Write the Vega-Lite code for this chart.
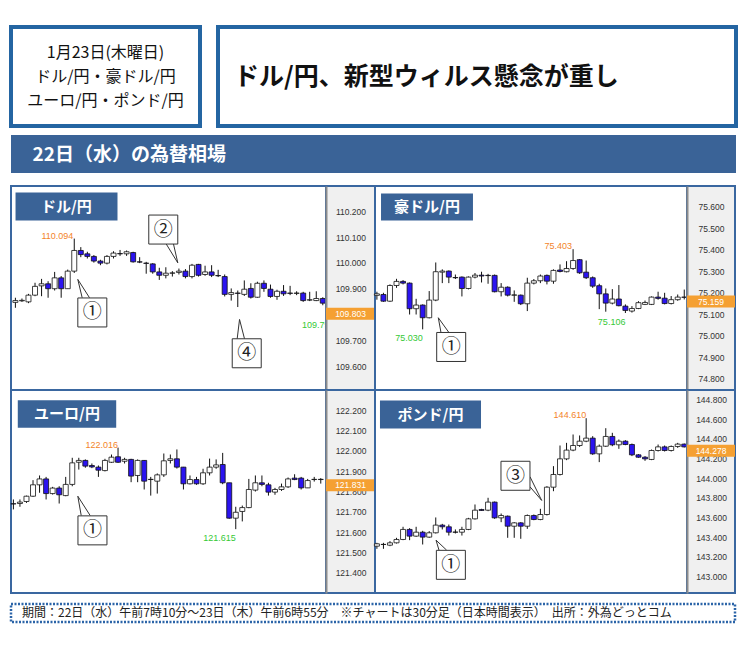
{
 "$schema": "https://vega.github.io/schema/vega-lite/v6.json",
 "background": "white",
 "padding": {"left": 9, "top": 25, "right": 0, "bottom": 0},
 "spacing": 12,
 "config": {"view": {"stroke": null}},
 "datasets": {
  "candles": [
   {"pair":"USDJPY","t":0,"open":109.847,"high":109.865,"low":109.826,"close":109.854},
   {"pair":"USDJPY","t":1,"open":109.853,"high":109.862,"low":109.849,"close":109.855},
   {"pair":"USDJPY","t":2,"open":109.849,"high":109.880,"low":109.844,"close":109.875},
   {"pair":"USDJPY","t":3,"open":109.875,"high":109.923,"low":109.871,"close":109.909},
   {"pair":"USDJPY","t":4,"open":109.911,"high":109.938,"low":109.871,"close":109.919},
   {"pair":"USDJPY","t":5,"open":109.919,"high":109.929,"low":109.865,"close":109.900},
   {"pair":"USDJPY","t":6,"open":109.900,"high":109.965,"low":109.893,"close":109.942},
   {"pair":"USDJPY","t":7,"open":109.942,"high":109.949,"low":109.865,"close":109.900},
   {"pair":"USDJPY","t":8,"open":109.900,"high":109.974,"low":109.900,"close":109.968},
   {"pair":"USDJPY","t":9,"open":109.968,"high":110.094,"low":109.961,"close":110.048},
   {"pair":"USDJPY","t":10,"open":110.048,"high":110.061,"low":110.022,"close":110.032},
   {"pair":"USDJPY","t":11,"open":110.035,"high":110.043,"low":110.017,"close":110.025},
   {"pair":"USDJPY","t":12,"open":110.025,"high":110.030,"low":110.001,"close":110.007},
   {"pair":"USDJPY","t":13,"open":110.007,"high":110.012,"low":109.991,"close":109.999},
   {"pair":"USDJPY","t":14,"open":109.999,"high":110.030,"low":109.994,"close":110.025},
   {"pair":"USDJPY","t":15,"open":110.025,"high":110.045,"low":110.017,"close":110.038},
   {"pair":"USDJPY","t":16,"open":110.036,"high":110.050,"low":110.027,"close":110.035},
   {"pair":"USDJPY","t":17,"open":110.035,"high":110.048,"low":110.027,"close":110.043},
   {"pair":"USDJPY","t":18,"open":110.040,"high":110.043,"low":110.001,"close":110.004},
   {"pair":"USDJPY","t":19,"open":110.004,"high":110.022,"low":109.999,"close":110.003},
   {"pair":"USDJPY","t":20,"open":109.999,"high":110.004,"low":109.958,"close":109.998},
   {"pair":"USDJPY","t":21,"open":109.996,"high":109.999,"low":109.958,"close":109.965},
   {"pair":"USDJPY","t":22,"open":109.965,"high":109.981,"low":109.934,"close":109.952},
   {"pair":"USDJPY","t":23,"open":109.952,"high":109.983,"low":109.940,"close":109.960},
   {"pair":"USDJPY","t":24,"open":109.960,"high":109.968,"low":109.947,"close":109.961},
   {"pair":"USDJPY","t":25,"open":109.963,"high":109.978,"low":109.955,"close":109.968},
   {"pair":"USDJPY","t":26,"open":109.968,"high":109.976,"low":109.940,"close":109.947},
   {"pair":"USDJPY","t":27,"open":109.947,"high":109.996,"low":109.940,"close":109.991},
   {"pair":"USDJPY","t":28,"open":109.994,"high":109.996,"low":109.947,"close":109.952},
   {"pair":"USDJPY","t":29,"open":109.955,"high":109.989,"low":109.950,"close":109.965},
   {"pair":"USDJPY","t":30,"open":109.965,"high":109.991,"low":109.945,"close":109.952},
   {"pair":"USDJPY","t":31,"open":109.951,"high":109.973,"low":109.945,"close":109.950},
   {"pair":"USDJPY","t":32,"open":109.947,"high":109.955,"low":109.870,"close":109.878},
   {"pair":"USDJPY","t":33,"open":109.878,"high":109.901,"low":109.854,"close":109.885},
   {"pair":"USDJPY","t":34,"open":109.883,"high":109.893,"low":109.829,"close":109.882},
   {"pair":"USDJPY","t":35,"open":109.878,"high":109.932,"low":109.872,"close":109.898},
   {"pair":"USDJPY","t":36,"open":109.901,"high":109.921,"low":109.862,"close":109.867},
   {"pair":"USDJPY","t":37,"open":109.867,"high":109.927,"low":109.865,"close":109.921},
   {"pair":"USDJPY","t":38,"open":109.921,"high":109.932,"low":109.888,"close":109.901},
   {"pair":"USDJPY","t":39,"open":109.898,"high":109.916,"low":109.865,"close":109.870},
   {"pair":"USDJPY","t":40,"open":109.870,"high":109.896,"low":109.857,"close":109.890},
   {"pair":"USDJPY","t":41,"open":109.890,"high":109.914,"low":109.872,"close":109.880},
   {"pair":"USDJPY","t":42,"open":109.883,"high":109.911,"low":109.875,"close":109.882},
   {"pair":"USDJPY","t":43,"open":109.882,"high":109.890,"low":109.875,"close":109.883},
   {"pair":"USDJPY","t":44,"open":109.883,"high":109.888,"low":109.849,"close":109.854},
   {"pair":"USDJPY","t":45,"open":109.856,"high":109.888,"low":109.852,"close":109.857},
   {"pair":"USDJPY","t":46,"open":109.854,"high":109.890,"low":109.852,"close":109.862},
   {"pair":"USDJPY","t":47,"open":109.862,"high":109.867,"low":109.836,"close":109.844},
   {"pair":"AUDJPY","t":0,"open":75.188,"high":75.205,"low":75.168,"close":75.195},
   {"pair":"AUDJPY","t":1,"open":75.192,"high":75.200,"low":75.158,"close":75.161},
   {"pair":"AUDJPY","t":2,"open":75.161,"high":75.239,"low":75.158,"close":75.234},
   {"pair":"AUDJPY","t":3,"open":75.234,"high":75.265,"low":75.223,"close":75.253},
   {"pair":"AUDJPY","t":4,"open":75.253,"high":75.259,"low":75.239,"close":75.245},
   {"pair":"AUDJPY","t":5,"open":75.245,"high":75.248,"low":75.099,"close":75.126},
   {"pair":"AUDJPY","t":6,"open":75.126,"high":75.172,"low":75.099,"close":75.143},
   {"pair":"AUDJPY","t":7,"open":75.143,"high":75.146,"low":75.030,"close":75.084},
   {"pair":"AUDJPY","t":8,"open":75.084,"high":75.208,"low":75.081,"close":75.166},
   {"pair":"AUDJPY","t":9,"open":75.166,"high":75.341,"low":75.161,"close":75.298},
   {"pair":"AUDJPY","t":10,"open":75.296,"high":75.309,"low":75.245,"close":75.301},
   {"pair":"AUDJPY","t":11,"open":75.301,"high":75.304,"low":75.245,"close":75.273},
   {"pair":"AUDJPY","t":12,"open":75.271,"high":75.285,"low":75.264,"close":75.270},
   {"pair":"AUDJPY","t":13,"open":75.273,"high":75.276,"low":75.183,"close":75.220},
   {"pair":"AUDJPY","t":14,"open":75.220,"high":75.276,"low":75.216,"close":75.273},
   {"pair":"AUDJPY","t":15,"open":75.273,"high":75.292,"low":75.267,"close":75.282},
   {"pair":"AUDJPY","t":16,"open":75.282,"high":75.298,"low":75.248,"close":75.278},
   {"pair":"AUDJPY","t":17,"open":75.281,"high":75.288,"low":75.242,"close":75.280},
   {"pair":"AUDJPY","t":18,"open":75.281,"high":75.285,"low":75.202,"close":75.205},
   {"pair":"AUDJPY","t":19,"open":75.205,"high":75.245,"low":75.183,"close":75.226},
   {"pair":"AUDJPY","t":20,"open":75.226,"high":75.230,"low":75.183,"close":75.189},
   {"pair":"AUDJPY","t":21,"open":75.189,"high":75.211,"low":75.158,"close":75.190},
   {"pair":"AUDJPY","t":22,"open":75.189,"high":75.192,"low":75.143,"close":75.149},
   {"pair":"AUDJPY","t":23,"open":75.149,"high":75.270,"low":75.115,"close":75.245},
   {"pair":"AUDJPY","t":24,"open":75.245,"high":75.264,"low":75.239,"close":75.256},
   {"pair":"AUDJPY","t":25,"open":75.256,"high":75.285,"low":75.245,"close":75.278},
   {"pair":"AUDJPY","t":26,"open":75.281,"high":75.285,"low":75.239,"close":75.254},
   {"pair":"AUDJPY","t":27,"open":75.254,"high":75.309,"low":75.242,"close":75.304},
   {"pair":"AUDJPY","t":28,"open":75.306,"high":75.332,"low":75.295,"close":75.299},
   {"pair":"AUDJPY","t":29,"open":75.298,"high":75.347,"low":75.295,"close":75.313},
   {"pair":"AUDJPY","t":30,"open":75.313,"high":75.403,"low":75.307,"close":75.350},
   {"pair":"AUDJPY","t":31,"open":75.354,"high":75.357,"low":75.288,"close":75.293},
   {"pair":"AUDJPY","t":32,"open":75.296,"high":75.350,"low":75.264,"close":75.270},
   {"pair":"AUDJPY","t":33,"open":75.270,"high":75.276,"low":75.223,"close":75.231},
   {"pair":"AUDJPY","t":34,"open":75.233,"high":75.242,"low":75.124,"close":75.195},
   {"pair":"AUDJPY","t":35,"open":75.195,"high":75.220,"low":75.112,"close":75.152},
   {"pair":"AUDJPY","t":36,"open":75.152,"high":75.217,"low":75.146,"close":75.171},
   {"pair":"AUDJPY","t":37,"open":75.171,"high":75.236,"low":75.137,"close":75.140},
   {"pair":"AUDJPY","t":38,"open":75.138,"high":75.146,"low":75.106,"close":75.118},
   {"pair":"AUDJPY","t":39,"open":75.115,"high":75.138,"low":75.108,"close":75.127},
   {"pair":"AUDJPY","t":40,"open":75.127,"high":75.161,"low":75.124,"close":75.154},
   {"pair":"AUDJPY","t":41,"open":75.146,"high":75.164,"low":75.143,"close":75.155},
   {"pair":"AUDJPY","t":42,"open":75.146,"high":75.183,"low":75.143,"close":75.180},
   {"pair":"AUDJPY","t":43,"open":75.180,"high":75.205,"low":75.168,"close":75.174},
   {"pair":"AUDJPY","t":44,"open":75.175,"high":75.200,"low":75.146,"close":75.150},
   {"pair":"AUDJPY","t":45,"open":75.150,"high":75.185,"low":75.146,"close":75.168},
   {"pair":"AUDJPY","t":46,"open":75.168,"high":75.192,"low":75.163,"close":75.180},
   {"pair":"AUDJPY","t":47,"open":75.180,"high":75.215,"low":75.169,"close":75.179},
   {"pair":"EURJPY","t":0,"open":121.740,"high":121.761,"low":121.712,"close":121.739},
   {"pair":"EURJPY","t":1,"open":121.741,"high":121.761,"low":121.725,"close":121.748},
   {"pair":"EURJPY","t":2,"open":121.751,"high":121.780,"low":121.744,"close":121.777},
   {"pair":"EURJPY","t":3,"open":121.777,"high":121.856,"low":121.774,"close":121.833},
   {"pair":"EURJPY","t":4,"open":121.833,"high":121.879,"low":121.794,"close":121.862},
   {"pair":"EURJPY","t":5,"open":121.862,"high":121.872,"low":121.761,"close":121.790},
   {"pair":"EURJPY","t":6,"open":121.790,"high":121.823,"low":121.785,"close":121.817},
   {"pair":"EURJPY","t":7,"open":121.817,"high":121.826,"low":121.741,"close":121.784},
   {"pair":"EURJPY","t":8,"open":121.780,"high":121.872,"low":121.777,"close":121.835},
   {"pair":"EURJPY","t":9,"open":121.835,"high":121.966,"low":121.826,"close":121.941},
   {"pair":"EURJPY","t":10,"open":121.944,"high":121.966,"low":121.908,"close":121.953},
   {"pair":"EURJPY","t":11,"open":121.953,"high":121.958,"low":121.917,"close":121.925},
   {"pair":"EURJPY","t":12,"open":121.928,"high":121.938,"low":121.915,"close":121.921},
   {"pair":"EURJPY","t":13,"open":121.920,"high":121.928,"low":121.872,"close":121.905},
   {"pair":"EURJPY","t":14,"open":121.903,"high":121.961,"low":121.899,"close":121.953},
   {"pair":"EURJPY","t":15,"open":121.944,"high":121.982,"low":121.941,"close":121.969},
   {"pair":"EURJPY","t":16,"open":121.971,"high":122.016,"low":121.941,"close":121.944},
   {"pair":"EURJPY","t":17,"open":121.949,"high":121.966,"low":121.938,"close":121.958},
   {"pair":"EURJPY","t":18,"open":121.958,"high":121.961,"low":121.846,"close":121.876},
   {"pair":"EURJPY","t":19,"open":121.879,"high":121.958,"low":121.846,"close":121.953},
   {"pair":"EURJPY","t":20,"open":121.953,"high":121.954,"low":121.810,"close":121.851},
   {"pair":"EURJPY","t":21,"open":121.859,"high":121.872,"low":121.780,"close":121.860},
   {"pair":"EURJPY","t":22,"open":121.851,"high":121.889,"low":121.790,"close":121.882},
   {"pair":"EURJPY","t":23,"open":121.882,"high":121.987,"low":121.872,"close":121.951},
   {"pair":"EURJPY","t":24,"open":121.953,"high":121.982,"low":121.938,"close":121.961},
   {"pair":"EURJPY","t":25,"open":121.961,"high":122.007,"low":121.913,"close":121.920},
   {"pair":"EURJPY","t":26,"open":121.920,"high":121.921,"low":121.810,"close":121.838},
   {"pair":"EURJPY","t":27,"open":121.838,"high":121.879,"low":121.835,"close":121.859},
   {"pair":"EURJPY","t":28,"open":121.859,"high":121.872,"low":121.833,"close":121.838},
   {"pair":"EURJPY","t":29,"open":121.838,"high":121.912,"low":121.833,"close":121.892},
   {"pair":"EURJPY","t":30,"open":121.892,"high":121.962,"low":121.879,"close":121.920},
   {"pair":"EURJPY","t":31,"open":121.920,"high":121.958,"low":121.912,"close":121.931},
   {"pair":"EURJPY","t":32,"open":121.933,"high":121.990,"low":121.836,"close":121.843},
   {"pair":"EURJPY","t":33,"open":121.843,"high":121.843,"low":121.666,"close":121.669},
   {"pair":"EURJPY","t":34,"open":121.669,"high":121.725,"low":121.615,"close":121.698},
   {"pair":"EURJPY","t":35,"open":121.702,"high":121.731,"low":121.653,"close":121.721},
   {"pair":"EURJPY","t":36,"open":121.721,"high":121.862,"low":121.718,"close":121.810},
   {"pair":"EURJPY","t":37,"open":121.807,"high":121.879,"low":121.800,"close":121.843},
   {"pair":"EURJPY","t":38,"open":121.843,"high":121.879,"low":121.826,"close":121.835},
   {"pair":"EURJPY","t":39,"open":121.833,"high":121.843,"low":121.780,"close":121.797},
   {"pair":"EURJPY","t":40,"open":121.797,"high":121.818,"low":121.784,"close":121.810},
   {"pair":"EURJPY","t":41,"open":121.810,"high":121.839,"low":121.803,"close":121.823},
   {"pair":"EURJPY","t":42,"open":121.823,"high":121.869,"low":121.818,"close":121.862},
   {"pair":"EURJPY","t":43,"open":121.866,"high":121.885,"low":121.856,"close":121.859},
   {"pair":"EURJPY","t":44,"open":121.866,"high":121.872,"low":121.810,"close":121.818},
   {"pair":"EURJPY","t":45,"open":121.818,"high":121.862,"low":121.817,"close":121.854},
   {"pair":"EURJPY","t":46,"open":121.859,"high":121.872,"low":121.849,"close":121.860},
   {"pair":"EURJPY","t":47,"open":121.860,"high":121.866,"low":121.839,"close":121.859},
   {"pair":"GBPJPY","t":0,"open":143.308,"high":143.342,"low":143.281,"close":143.332},
   {"pair":"GBPJPY","t":1,"open":143.325,"high":143.342,"low":143.281,"close":143.326},
   {"pair":"GBPJPY","t":2,"open":143.318,"high":143.359,"low":143.308,"close":143.342},
   {"pair":"GBPJPY","t":3,"open":143.342,"high":143.393,"low":143.335,"close":143.376},
   {"pair":"GBPJPY","t":4,"open":143.376,"high":143.505,"low":143.369,"close":143.478},
   {"pair":"GBPJPY","t":5,"open":143.478,"high":143.491,"low":143.369,"close":143.410},
   {"pair":"GBPJPY","t":6,"open":143.410,"high":143.505,"low":143.403,"close":143.450},
   {"pair":"GBPJPY","t":7,"open":143.450,"high":143.464,"low":143.325,"close":143.400},
   {"pair":"GBPJPY","t":8,"open":143.400,"high":143.461,"low":143.393,"close":143.444},
   {"pair":"GBPJPY","t":9,"open":143.444,"high":143.600,"low":143.437,"close":143.522},
   {"pair":"GBPJPY","t":10,"open":143.522,"high":143.535,"low":143.478,"close":143.505},
   {"pair":"GBPJPY","t":11,"open":143.505,"high":143.528,"low":143.416,"close":143.450},
   {"pair":"GBPJPY","t":12,"open":143.451,"high":143.478,"low":143.437,"close":143.450},
   {"pair":"GBPJPY","t":13,"open":143.450,"high":143.505,"low":143.416,"close":143.478},
   {"pair":"GBPJPY","t":14,"open":143.478,"high":143.596,"low":143.471,"close":143.586},
   {"pair":"GBPJPY","t":15,"open":143.586,"high":143.732,"low":143.579,"close":143.674},
   {"pair":"GBPJPY","t":16,"open":143.681,"high":143.688,"low":143.667,"close":143.671},
   {"pair":"GBPJPY","t":17,"open":143.674,"high":143.800,"low":143.664,"close":143.756},
   {"pair":"GBPJPY","t":18,"open":143.756,"high":143.762,"low":143.586,"close":143.596},
   {"pair":"GBPJPY","t":19,"open":143.596,"high":143.640,"low":143.552,"close":143.620},
   {"pair":"GBPJPY","t":20,"open":143.613,"high":143.620,"low":143.393,"close":143.511},
   {"pair":"GBPJPY","t":21,"open":143.511,"high":143.552,"low":143.393,"close":143.545},
   {"pair":"GBPJPY","t":22,"open":143.545,"high":143.552,"low":143.383,"close":143.511},
   {"pair":"GBPJPY","t":23,"open":143.511,"high":143.630,"low":143.484,"close":143.620},
   {"pair":"GBPJPY","t":24,"open":143.620,"high":143.630,"low":143.572,"close":143.579},
   {"pair":"GBPJPY","t":25,"open":143.579,"high":143.688,"low":143.572,"close":143.630},
   {"pair":"GBPJPY","t":26,"open":143.630,"high":143.918,"low":143.620,"close":143.908},
   {"pair":"GBPJPY","t":27,"open":143.908,"high":144.122,"low":143.867,"close":144.037},
   {"pair":"GBPJPY","t":28,"open":144.037,"high":144.332,"low":144.027,"close":144.196},
   {"pair":"GBPJPY","t":29,"open":144.196,"high":144.359,"low":144.183,"close":144.285},
   {"pair":"GBPJPY","t":30,"open":144.285,"high":144.444,"low":144.274,"close":144.332},
   {"pair":"GBPJPY","t":31,"open":144.332,"high":144.434,"low":144.318,"close":144.376},
   {"pair":"GBPJPY","t":32,"open":144.376,"high":144.610,"low":144.366,"close":144.407},
   {"pair":"GBPJPY","t":33,"open":144.407,"high":144.427,"low":144.237,"close":144.247},
   {"pair":"GBPJPY","t":34,"open":144.247,"high":144.342,"low":144.163,"close":144.325},
   {"pair":"GBPJPY","t":35,"open":144.325,"high":144.508,"low":144.318,"close":144.424},
   {"pair":"GBPJPY","t":36,"open":144.424,"high":144.461,"low":144.325,"close":144.339},
   {"pair":"GBPJPY","t":37,"open":144.339,"high":144.393,"low":144.298,"close":144.376},
   {"pair":"GBPJPY","t":38,"open":144.376,"high":144.386,"low":144.335,"close":144.342},
   {"pair":"GBPJPY","t":39,"open":144.342,"high":144.352,"low":144.224,"close":144.237},
   {"pair":"GBPJPY","t":40,"open":144.237,"high":144.244,"low":144.207,"close":144.213},
   {"pair":"GBPJPY","t":41,"open":144.213,"high":144.224,"low":144.176,"close":144.196},
   {"pair":"GBPJPY","t":42,"open":144.190,"high":144.291,"low":144.183,"close":144.281},
   {"pair":"GBPJPY","t":43,"open":144.281,"high":144.342,"low":144.271,"close":144.318},
   {"pair":"GBPJPY","t":44,"open":144.318,"high":144.332,"low":144.271,"close":144.281},
   {"pair":"GBPJPY","t":45,"open":144.281,"high":144.332,"low":144.271,"close":144.322},
   {"pair":"GBPJPY","t":46,"open":144.322,"high":144.359,"low":144.308,"close":144.346},
   {"pair":"GBPJPY","t":47,"open":144.346,"high":144.352,"low":144.312,"close":144.318}
  ],
  "labels": [
   {"pair":"USDJPY","kind":"high","t":9,"value":110.094,"text":"110.094"},
   {"pair":"USDJPY","kind":"low","t":48.8,"value":109.795,"text":"109.795"},
   {"pair":"USDJPY","kind":"now","value":109.803,"text":"109.803"},
   {"pair":"AUDJPY","kind":"high","t":30,"value":75.403,"text":"75.403"},
   {"pair":"AUDJPY","kind":"low","t":7,"value":75.030,"text":"75.030"},
   {"pair":"AUDJPY","kind":"low","t":38,"value":75.106,"text":"75.106"},
   {"pair":"AUDJPY","kind":"now","value":75.159,"text":"75.159"},
   {"pair":"EURJPY","kind":"high","t":16,"value":122.016,"text":"122.016"},
   {"pair":"EURJPY","kind":"low","t":34,"value":121.615,"text":"121.615"},
   {"pair":"EURJPY","kind":"now","value":121.831,"text":"121.831"},
   {"pair":"GBPJPY","kind":"high","t":32,"value":144.610,"text":"144.610"},
   {"pair":"GBPJPY","kind":"now","value":144.278,"text":"144.278"}
  ],
  "boxes": [
   {"pair":"USDJPY","id":"1","t":11.76,"value":109.808,"label":"①"},
   {"pair":"USDJPY","id":"2","t":22.61,"value":110.129,"label":"②"},
   {"pair":"USDJPY","id":"4","t":35.37,"value":109.650,"label":"④"},
   {"pair":"AUDJPY","id":"1","t":11.36,"value":74.948,"label":"①"},
   {"pair":"EURJPY","id":"1","t":12.09,"value":121.609,"label":"①"},
   {"pair":"GBPJPY","id":"3","t":21.19,"value":144.024,"label":"③"},
   {"pair":"GBPJPY","id":"1","t":11.31,"value":143.118,"label":"①"}
  ],
  "tails": [
   {"pair":"USDJPY","id":"1","seq":0,"t":10.21,"value":109.865},
   {"pair":"USDJPY","id":"1","seq":1,"t":9.54,"value":109.936},
   {"pair":"USDJPY","id":"1","seq":2,"t":11.33,"value":109.865},
   {"pair":"USDJPY","id":"2","seq":0,"t":23.06,"value":110.073},
   {"pair":"USDJPY","id":"2","seq":1,"t":24.83,"value":110.000},
   {"pair":"USDJPY","id":"2","seq":2,"t":24.17,"value":110.073},
   {"pair":"USDJPY","id":"4","seq":0,"t":33.91,"value":109.706},
   {"pair":"USDJPY","id":"4","seq":1,"t":34.27,"value":109.781},
   {"pair":"USDJPY","id":"4","seq":2,"t":35.03,"value":109.706},
   {"pair":"AUDJPY","id":"1","seq":0,"t":9.80,"value":75.015},
   {"pair":"AUDJPY","id":"1","seq":1,"t":9.39,"value":75.084},
   {"pair":"AUDJPY","id":"1","seq":2,"t":11.02,"value":75.015},
   {"pair":"EURJPY","id":"1","seq":0,"t":10.37,"value":121.682},
   {"pair":"EURJPY","id":"1","seq":1,"t":9.85,"value":121.777},
   {"pair":"EURJPY","id":"1","seq":2,"t":11.74,"value":121.682},
   {"pair":"GBPJPY","id":"3","seq":0,"t":23.41,"value":144.014},
   {"pair":"GBPJPY","id":"3","seq":1,"t":25.2,"value":143.773},
   {"pair":"GBPJPY","id":"3","seq":2,"t":23.41,"value":143.912},
   {"pair":"GBPJPY","id":"1","seq":0,"t":9.5,"value":143.267},
   {"pair":"GBPJPY","id":"1","seq":1,"t":9.04,"value":143.369},
   {"pair":"GBPJPY","id":"1","seq":2,"t":10.67,"value":143.267}
  ]
 },
 "vconcat": [
  {
   "vconcat": [
    {
     "hconcat": [
      {
       "width": 189, "height": 99,
       "view": {"stroke": "#2465A2", "strokeWidth": 4},
       "data": {"values": [{"label": "1月23日(木曜日)\nドル/円・豪ドル/円\nユーロ/円・ポンド/円"}]},
       "mark": {"type": "text", "lineBreak": "\n", "font": "Noto Sans CJK JP", "fontSize": 16, "lineHeight": 24, "color": "#111111", "align": "center", "baseline": "middle", "dy": -24},
       "encoding": {"text": {"field": "label"}}
      },
      {
       "width": 518, "height": 99,
       "view": {"stroke": "#2465A2", "strokeWidth": 4},
       "data": {"values": [{"label": "ドル/円、新型ウィルス懸念が重し"}]},
       "mark": {"type": "text", "font": "Noto Sans CJK JP", "fontSize": 25, "fontWeight": "bold", "color": "#111111", "align": "left", "baseline": "middle", "dx": -243},
       "encoding": {"text": {"field": "label"}}
      }
     ],
     "spacing": 18,
     "bounds": "flush"
    },
    {
     "width": 725, "height": 38,
     "view": {"fill": "#3A6397", "stroke": null},
     "data": {"values": [{"label": "22日（水）の為替相場"}]},
     "mark": {"type": "text", "font": "Noto Sans CJK JP", "fontSize": 19, "fontWeight": "bold", "color": "#FFFFFF", "align": "left", "baseline": "middle", "dx": -341, "dy": 1},
     "encoding": {"text": {"field": "label"}}
    }
   ],
   "spacing": 7
  },
  {
   "vconcat": [
    {
     "concat": [
      {
       "width": 315, "height": 204,
       "view": {"stroke": "#3A67A0", "strokeWidth": 2},
       "layer": [
        {"data": {"name": "candles"}, "transform": [{"filter": {"field": "pair", "equal": "USDJPY"}}],
         "mark": {"type": "rule", "color": "#111111", "strokeWidth": 1},
         "encoding": {
          "x": {"field": "t", "type": "quantitative", "scale": {"domain": [-0.673, 47.49], "nice": false, "zero": false, "padding": 0}, "axis": {"values": [9.5, 33.5], "grid": true, "gridColor": "#D0D0D0", "labels": false, "ticks": false, "domain": false, "title": null}},
          "y": {"field": "low", "type": "quantitative", "scale": {"domain": [109.5078, 110.2976], "nice": false, "zero": false, "padding": 0}, "axis": {"values": [109.6, 109.7, 109.8, 109.9, 110.0, 110.1, 110.2], "grid": true, "gridColor": "#DEDEDE", "labels": false, "ticks": false, "domain": false, "title": null}},
          "y2": {"field": "high"}}},
        {"data": {"name": "candles"}, "transform": [{"filter": {"field": "pair", "equal": "USDJPY"}}],
         "mark": {"type": "bar", "size": 5, "stroke": "#111111", "strokeWidth": 0.8},
         "encoding": {
          "x": {"field": "t", "type": "quantitative", "scale": {"domain": [-0.673, 47.49], "nice": false, "zero": false, "padding": 0}, "axis": null},
          "y": {"field": "open", "type": "quantitative", "scale": {"domain": [109.5078, 110.2976], "nice": false, "zero": false, "padding": 0}, "axis": null},
          "y2": {"field": "close"},
          "fill": {"condition": {"test": "datum.close >= datum.open", "value": "#FFFFFF"}, "value": "#2B14F0"}}},
        {"data": {"name": "labels"}, "transform": [{"filter": "datum.pair == 'USDJPY' && datum.kind == 'high'"}],
         "mark": {"type": "text", "align": "right", "baseline": "middle", "dx": -1, "dy": -3, "font": "Liberation Sans, Arial, sans-serif", "fontSize": 9, "color": "#F3842A", "clip": true},
         "encoding": {
          "x": {"field": "t", "type": "quantitative", "scale": {"domain": [-0.673, 47.49], "nice": false, "zero": false, "padding": 0}, "axis": null},
          "y": {"field": "value", "type": "quantitative", "scale": {"domain": [109.5078, 110.2976], "nice": false, "zero": false, "padding": 0}, "axis": null},
          "text": {"field": "text"}}},
        {"data": {"name": "labels"}, "transform": [{"filter": "datum.pair == 'USDJPY' && datum.kind == 'low'"}],
         "mark": {"type": "text", "align": "right", "baseline": "middle", "dx": 0, "dy": 9, "font": "Liberation Sans, Arial, sans-serif", "fontSize": 9, "color": "#35C935", "clip": true},
         "encoding": {
          "x": {"field": "t", "type": "quantitative", "scale": {"domain": [-0.673, 47.49], "nice": false, "zero": false, "padding": 0}, "axis": null},
          "y": {"field": "value", "type": "quantitative", "scale": {"domain": [109.5078, 110.2976], "nice": false, "zero": false, "padding": 0}, "axis": null},
          "text": {"field": "text"}}},
        {"data": {"values": [{}]},
         "mark": {"type": "rect", "fill": "#3A6397"},
         "encoding": {
          "x": {"datum": 0.02, "type": "quantitative", "scale": {"domain": [-0.673, 47.49], "nice": false, "zero": false, "padding": 0}, "axis": null},
          "x2": {"datum": 15.61},
          "y": {"datum": 110.2724, "type": "quantitative", "scale": {"domain": [109.5078, 110.2976], "nice": false, "zero": false, "padding": 0}, "axis": null},
          "y2": {"datum": 110.164}}},
        {"data": {"values": [{}]},
         "mark": {"type": "text", "text": "ドル/円", "font": "Noto Sans CJK JP", "fontSize": 15, "fontWeight": "bold", "color": "#FFFFFF"},
         "encoding": {
          "x": {"datum": 7.8, "type": "quantitative", "scale": {"domain": [-0.673, 47.49], "nice": false, "zero": false, "padding": 0}, "axis": null},
          "y": {"datum": 110.218, "type": "quantitative", "scale": {"domain": [109.5078, 110.2976], "nice": false, "zero": false, "padding": 0}, "axis": null}}},
        {"data": {"name": "tails"}, "transform": [{"filter": {"field": "pair", "equal": "USDJPY"}}],
         "mark": {"type": "line", "stroke": "#333333", "strokeWidth": 1},
         "encoding": {
          "x": {"field": "t", "type": "quantitative", "scale": {"domain": [-0.673, 47.49], "nice": false, "zero": false, "padding": 0}, "axis": null},
          "y": {"field": "value", "type": "quantitative", "scale": {"domain": [109.5078, 110.2976], "nice": false, "zero": false, "padding": 0}, "axis": null},
          "detail": {"field": "id"},
          "order": {"field": "seq"}}},
        {"data": {"name": "boxes"}, "transform": [{"filter": {"field": "pair", "equal": "USDJPY"}}],
         "mark": {"type": "point", "shape": "square", "size": 841, "filled": true, "fill": "#FFFFFF", "stroke": "#333333", "strokeWidth": 1, "opacity": 1},
         "encoding": {
          "x": {"field": "t", "type": "quantitative", "scale": {"domain": [-0.673, 47.49], "nice": false, "zero": false, "padding": 0}, "axis": null},
          "y": {"field": "value", "type": "quantitative", "scale": {"domain": [109.5078, 110.2976], "nice": false, "zero": false, "padding": 0}, "axis": null}}},
        {"data": {"name": "boxes"}, "transform": [{"filter": {"field": "pair", "equal": "USDJPY"}}],
         "mark": {"type": "text", "font": "Noto Sans CJK JP", "fontSize": 19, "color": "#222222"},
         "encoding": {
          "x": {"field": "t", "type": "quantitative", "scale": {"domain": [-0.673, 47.49], "nice": false, "zero": false, "padding": 0}, "axis": null},
          "y": {"field": "value", "type": "quantitative", "scale": {"domain": [109.5078, 110.2976], "nice": false, "zero": false, "padding": 0}, "axis": null},
          "text": {"field": "label"}}}
       ]
      },
      {
       "width": 49, "height": 204,
       "view": {"fill": "#F0F0F0", "stroke": "#3A67A0", "strokeWidth": 2},
       "data": {"name": "labels"},
       "transform": [{"filter": "datum.pair == 'USDJPY' && datum.kind == 'now'"}],
       "encoding": {"y": {"field": "value", "type": "quantitative", "scale": {"domain": [109.5078, 110.2976], "nice": false, "zero": false, "padding": 0},
           "axis": {"orient": "left", "values": [109.6, 109.7, 109.8, 109.9, 110.0, 110.1, 110.2], "format": ".3f", "grid": false, "ticks": false, "domain": true, "domainColor": "#8C8C8C", "domainWidth": 2, "labelAlign": "center", "labelPadding": -24.5, "labelFont": "Liberation Sans, Arial, sans-serif", "labelFontSize": 8.5, "labelColor": "#333333", "title": null}}},
       "layer": [
        {"mark": {"type": "tick", "orient": "horizontal", "size": 49, "thickness": 12, "color": "#F5A032", "opacity": 1}},
        {"mark": {"type": "text", "color": "#FFFFFF", "font": "Liberation Sans, Arial, sans-serif", "fontSize": 8.5},
         "encoding": {"text": {"field": "text"}}}
       ]
      },
      {
       "width": 312, "height": 204,
       "view": {"stroke": "#3A67A0", "strokeWidth": 2},
       "layer": [
        {"data": {"name": "candles"}, "transform": [{"filter": {"field": "pair", "equal": "AUDJPY"}}],
         "mark": {"type": "rule", "color": "#111111", "strokeWidth": 1},
         "encoding": {
          "x": {"field": "t", "type": "quantitative", "scale": {"domain": [-0.291, 47.42], "nice": false, "zero": false, "padding": 0}, "axis": {"values": [9.5, 33.5], "grid": true, "gridColor": "#D0D0D0", "labels": false, "ticks": false, "domain": false, "title": null}},
          "y": {"field": "low", "type": "quantitative", "scale": {"domain": [74.7479, 75.6967], "nice": false, "zero": false, "padding": 0}, "axis": {"values": [74.8, 74.9, 75.0, 75.1, 75.2, 75.3, 75.4, 75.5, 75.6], "grid": true, "gridColor": "#DEDEDE", "labels": false, "ticks": false, "domain": false, "title": null}},
          "y2": {"field": "high"}}},
        {"data": {"name": "candles"}, "transform": [{"filter": {"field": "pair", "equal": "AUDJPY"}}],
         "mark": {"type": "bar", "size": 5, "stroke": "#111111", "strokeWidth": 0.8},
         "encoding": {
          "x": {"field": "t", "type": "quantitative", "scale": {"domain": [-0.291, 47.42], "nice": false, "zero": false, "padding": 0}, "axis": null},
          "y": {"field": "open", "type": "quantitative", "scale": {"domain": [74.7479, 75.6967], "nice": false, "zero": false, "padding": 0}, "axis": null},
          "y2": {"field": "close"},
          "fill": {"condition": {"test": "datum.close >= datum.open", "value": "#FFFFFF"}, "value": "#2B14F0"}}},
        {"data": {"name": "labels"}, "transform": [{"filter": "datum.pair == 'AUDJPY' && datum.kind == 'high'"}],
         "mark": {"type": "text", "align": "right", "baseline": "middle", "dx": -1, "dy": -3, "font": "Liberation Sans, Arial, sans-serif", "fontSize": 9, "color": "#F3842A", "clip": true},
         "encoding": {
          "x": {"field": "t", "type": "quantitative", "scale": {"domain": [-0.291, 47.42], "nice": false, "zero": false, "padding": 0}, "axis": null},
          "y": {"field": "value", "type": "quantitative", "scale": {"domain": [74.7479, 75.6967], "nice": false, "zero": false, "padding": 0}, "axis": null},
          "text": {"field": "text"}}},
        {"data": {"name": "labels"}, "transform": [{"filter": "datum.pair == 'AUDJPY' && datum.kind == 'low'"}],
         "mark": {"type": "text", "align": "right", "baseline": "middle", "dx": 0, "dy": 9, "font": "Liberation Sans, Arial, sans-serif", "fontSize": 9, "color": "#35C935", "clip": true},
         "encoding": {
          "x": {"field": "t", "type": "quantitative", "scale": {"domain": [-0.291, 47.42], "nice": false, "zero": false, "padding": 0}, "axis": null},
          "y": {"field": "value", "type": "quantitative", "scale": {"domain": [74.7479, 75.6967], "nice": false, "zero": false, "padding": 0}, "axis": null},
          "text": {"field": "text"}}},
        {"data": {"values": [{}]},
         "mark": {"type": "rect", "fill": "#3A6397"},
         "encoding": {
          "x": {"datum": 0.63, "type": "quantitative", "scale": {"domain": [-0.291, 47.42], "nice": false, "zero": false, "padding": 0}, "axis": null},
          "x2": {"datum": 14.69},
          "y": {"datum": 75.6618, "type": "quantitative", "scale": {"domain": [74.7479, 75.6967], "nice": false, "zero": false, "padding": 0}, "axis": null},
          "y2": {"datum": 75.5362}}},
        {"data": {"values": [{}]},
         "mark": {"type": "text", "text": "豪ドル/円", "font": "Noto Sans CJK JP", "fontSize": 15, "fontWeight": "bold", "color": "#FFFFFF"},
         "encoding": {
          "x": {"datum": 7.66, "type": "quantitative", "scale": {"domain": [-0.291, 47.42], "nice": false, "zero": false, "padding": 0}, "axis": null},
          "y": {"datum": 75.599, "type": "quantitative", "scale": {"domain": [74.7479, 75.6967], "nice": false, "zero": false, "padding": 0}, "axis": null}}},
        {"data": {"name": "tails"}, "transform": [{"filter": {"field": "pair", "equal": "AUDJPY"}}],
         "mark": {"type": "line", "stroke": "#333333", "strokeWidth": 1},
         "encoding": {
          "x": {"field": "t", "type": "quantitative", "scale": {"domain": [-0.291, 47.42], "nice": false, "zero": false, "padding": 0}, "axis": null},
          "y": {"field": "value", "type": "quantitative", "scale": {"domain": [74.7479, 75.6967], "nice": false, "zero": false, "padding": 0}, "axis": null},
          "detail": {"field": "id"},
          "order": {"field": "seq"}}},
        {"data": {"name": "boxes"}, "transform": [{"filter": {"field": "pair", "equal": "AUDJPY"}}],
         "mark": {"type": "point", "shape": "square", "size": 841, "filled": true, "fill": "#FFFFFF", "stroke": "#333333", "strokeWidth": 1, "opacity": 1},
         "encoding": {
          "x": {"field": "t", "type": "quantitative", "scale": {"domain": [-0.291, 47.42], "nice": false, "zero": false, "padding": 0}, "axis": null},
          "y": {"field": "value", "type": "quantitative", "scale": {"domain": [74.7479, 75.6967], "nice": false, "zero": false, "padding": 0}, "axis": null}}},
        {"data": {"name": "boxes"}, "transform": [{"filter": {"field": "pair", "equal": "AUDJPY"}}],
         "mark": {"type": "text", "font": "Noto Sans CJK JP", "fontSize": 19, "color": "#222222"},
         "encoding": {
          "x": {"field": "t", "type": "quantitative", "scale": {"domain": [-0.291, 47.42], "nice": false, "zero": false, "padding": 0}, "axis": null},
          "y": {"field": "value", "type": "quantitative", "scale": {"domain": [74.7479, 75.6967], "nice": false, "zero": false, "padding": 0}, "axis": null},
          "text": {"field": "label"}}}
       ]
      },
      {
       "width": 48, "height": 204,
       "view": {"fill": "#F0F0F0", "stroke": "#3A67A0", "strokeWidth": 2},
       "data": {"name": "labels"},
       "transform": [{"filter": "datum.pair == 'AUDJPY' && datum.kind == 'now'"}],
       "encoding": {"y": {"field": "value", "type": "quantitative", "scale": {"domain": [74.7479, 75.6967], "nice": false, "zero": false, "padding": 0},
           "axis": {"orient": "left", "values": [74.8, 74.9, 75.0, 75.1, 75.2, 75.3, 75.4, 75.5, 75.6], "format": ".3f", "grid": false, "ticks": false, "domain": true, "domainColor": "#8C8C8C", "domainWidth": 2, "labelAlign": "center", "labelPadding": -24, "labelFont": "Liberation Sans, Arial, sans-serif", "labelFontSize": 8.5, "labelColor": "#333333", "title": null}}},
       "layer": [
        {"mark": {"type": "tick", "orient": "horizontal", "size": 48, "thickness": 12, "color": "#F5A032", "opacity": 1}},
        {"mark": {"type": "text", "color": "#FFFFFF", "font": "Liberation Sans, Arial, sans-serif", "fontSize": 8.5},
         "encoding": {"text": {"field": "text"}}}
       ]
      },
      {
       "width": 315, "height": 203,
       "view": {"stroke": "#3A67A0", "strokeWidth": 2},
       "layer": [
        {"data": {"name": "candles"}, "transform": [{"filter": {"field": "pair", "equal": "EURJPY"}}],
         "mark": {"type": "rule", "color": "#111111", "strokeWidth": 1},
         "encoding": {
          "x": {"field": "t", "type": "quantitative", "scale": {"domain": [-0.367, 47.80], "nice": false, "zero": false, "padding": 0}, "axis": {"values": [9.5, 33.5], "grid": true, "gridColor": "#D0D0D0", "labels": false, "ticks": false, "domain": false, "title": null}},
          "y": {"field": "low", "type": "quantitative", "scale": {"domain": [121.3009, 122.2994], "nice": false, "zero": false, "padding": 0}, "axis": {"values": [121.4, 121.5, 121.6, 121.7, 121.8, 121.9, 122.0, 122.1, 122.2], "grid": true, "gridColor": "#DEDEDE", "labels": false, "ticks": false, "domain": false, "title": null}},
          "y2": {"field": "high"}}},
        {"data": {"name": "candles"}, "transform": [{"filter": {"field": "pair", "equal": "EURJPY"}}],
         "mark": {"type": "bar", "size": 5, "stroke": "#111111", "strokeWidth": 0.8},
         "encoding": {
          "x": {"field": "t", "type": "quantitative", "scale": {"domain": [-0.367, 47.80], "nice": false, "zero": false, "padding": 0}, "axis": null},
          "y": {"field": "open", "type": "quantitative", "scale": {"domain": [121.3009, 122.2994], "nice": false, "zero": false, "padding": 0}, "axis": null},
          "y2": {"field": "close"},
          "fill": {"condition": {"test": "datum.close >= datum.open", "value": "#FFFFFF"}, "value": "#2B14F0"}}},
        {"data": {"name": "labels"}, "transform": [{"filter": "datum.pair == 'EURJPY' && datum.kind == 'high'"}],
         "mark": {"type": "text", "align": "right", "baseline": "middle", "dx": 0, "dy": -3, "font": "Liberation Sans, Arial, sans-serif", "fontSize": 9, "color": "#F3842A", "clip": true},
         "encoding": {
          "x": {"field": "t", "type": "quantitative", "scale": {"domain": [-0.367, 47.80], "nice": false, "zero": false, "padding": 0}, "axis": null},
          "y": {"field": "value", "type": "quantitative", "scale": {"domain": [121.3009, 122.2994], "nice": false, "zero": false, "padding": 0}, "axis": null},
          "text": {"field": "text"}}},
        {"data": {"name": "labels"}, "transform": [{"filter": "datum.pair == 'EURJPY' && datum.kind == 'low'"}],
         "mark": {"type": "text", "align": "right", "baseline": "middle", "dx": 0, "dy": 9, "font": "Liberation Sans, Arial, sans-serif", "fontSize": 9, "color": "#35C935", "clip": true},
         "encoding": {
          "x": {"field": "t", "type": "quantitative", "scale": {"domain": [-0.367, 47.80], "nice": false, "zero": false, "padding": 0}, "axis": null},
          "y": {"field": "value", "type": "quantitative", "scale": {"domain": [121.3009, 122.2994], "nice": false, "zero": false, "padding": 0}, "axis": null},
          "text": {"field": "text"}}},
        {"data": {"values": [{}]},
         "mark": {"type": "rect", "fill": "#3A6397"},
         "encoding": {
          "x": {"datum": 0.67, "type": "quantitative", "scale": {"domain": [-0.367, 47.80], "nice": false, "zero": false, "padding": 0}, "axis": null},
          "x2": {"datum": 15.72},
          "y": {"datum": 122.2492, "type": "quantitative", "scale": {"domain": [121.3009, 122.2994], "nice": false, "zero": false, "padding": 0}, "axis": null},
          "y2": {"datum": 122.1135}}},
        {"data": {"values": [{}]},
         "mark": {"type": "text", "text": "ユーロ/円", "font": "Noto Sans CJK JP", "fontSize": 15, "fontWeight": "bold", "color": "#FFFFFF"},
         "encoding": {
          "x": {"datum": 8.2, "type": "quantitative", "scale": {"domain": [-0.367, 47.80], "nice": false, "zero": false, "padding": 0}, "axis": null},
          "y": {"datum": 122.181, "type": "quantitative", "scale": {"domain": [121.3009, 122.2994], "nice": false, "zero": false, "padding": 0}, "axis": null}}},
        {"data": {"name": "tails"}, "transform": [{"filter": {"field": "pair", "equal": "EURJPY"}}],
         "mark": {"type": "line", "stroke": "#333333", "strokeWidth": 1},
         "encoding": {
          "x": {"field": "t", "type": "quantitative", "scale": {"domain": [-0.367, 47.80], "nice": false, "zero": false, "padding": 0}, "axis": null},
          "y": {"field": "value", "type": "quantitative", "scale": {"domain": [121.3009, 122.2994], "nice": false, "zero": false, "padding": 0}, "axis": null},
          "detail": {"field": "id"},
          "order": {"field": "seq"}}},
        {"data": {"name": "boxes"}, "transform": [{"filter": {"field": "pair", "equal": "EURJPY"}}],
         "mark": {"type": "point", "shape": "square", "size": 841, "filled": true, "fill": "#FFFFFF", "stroke": "#333333", "strokeWidth": 1, "opacity": 1},
         "encoding": {
          "x": {"field": "t", "type": "quantitative", "scale": {"domain": [-0.367, 47.80], "nice": false, "zero": false, "padding": 0}, "axis": null},
          "y": {"field": "value", "type": "quantitative", "scale": {"domain": [121.3009, 122.2994], "nice": false, "zero": false, "padding": 0}, "axis": null}}},
        {"data": {"name": "boxes"}, "transform": [{"filter": {"field": "pair", "equal": "EURJPY"}}],
         "mark": {"type": "text", "font": "Noto Sans CJK JP", "fontSize": 19, "color": "#222222"},
         "encoding": {
          "x": {"field": "t", "type": "quantitative", "scale": {"domain": [-0.367, 47.80], "nice": false, "zero": false, "padding": 0}, "axis": null},
          "y": {"field": "value", "type": "quantitative", "scale": {"domain": [121.3009, 122.2994], "nice": false, "zero": false, "padding": 0}, "axis": null},
          "text": {"field": "label"}}}
       ]
      },
      {
       "width": 49, "height": 203,
       "view": {"fill": "#F0F0F0", "stroke": "#3A67A0", "strokeWidth": 2},
       "data": {"name": "labels"},
       "transform": [{"filter": "datum.pair == 'EURJPY' && datum.kind == 'now'"}],
       "encoding": {"y": {"field": "value", "type": "quantitative", "scale": {"domain": [121.3009, 122.2994], "nice": false, "zero": false, "padding": 0},
           "axis": {"orient": "left", "values": [121.4, 121.5, 121.6, 121.7, 121.8, 121.9, 122.0, 122.1, 122.2], "format": ".3f", "grid": false, "ticks": false, "domain": true, "domainColor": "#8C8C8C", "domainWidth": 2, "labelAlign": "center", "labelPadding": -24.5, "labelFont": "Liberation Sans, Arial, sans-serif", "labelFontSize": 8.5, "labelColor": "#333333", "title": null}}},
       "layer": [
        {"mark": {"type": "tick", "orient": "horizontal", "size": 49, "thickness": 12, "color": "#F5A032", "opacity": 1}},
        {"mark": {"type": "text", "color": "#FFFFFF", "font": "Liberation Sans, Arial, sans-serif", "fontSize": 8.5},
         "encoding": {"text": {"field": "text"}}}
       ]
      },
      {
       "width": 312, "height": 203,
       "view": {"stroke": "#3A67A0", "strokeWidth": 2},
       "layer": [
        {"data": {"name": "candles"}, "transform": [{"filter": {"field": "pair", "equal": "GBPJPY"}}],
         "mark": {"type": "rule", "color": "#111111", "strokeWidth": 1},
         "encoding": {
          "x": {"field": "t", "type": "quantitative", "scale": {"domain": [-0.291, 47.42], "nice": false, "zero": false, "padding": 0}, "axis": {"values": [9.5, 33.5], "grid": true, "gridColor": "#D0D0D0", "labels": false, "ticks": false, "domain": false, "title": null}},
          "y": {"field": "low", "type": "quantitative", "scale": {"domain": [142.8315, 144.8966], "nice": false, "zero": false, "padding": 0}, "axis": {"values": [143.0, 143.2, 143.4, 143.6, 143.8, 144.0, 144.2, 144.4, 144.6, 144.8], "grid": true, "gridColor": "#DEDEDE", "labels": false, "ticks": false, "domain": false, "title": null}},
          "y2": {"field": "high"}}},
        {"data": {"name": "candles"}, "transform": [{"filter": {"field": "pair", "equal": "GBPJPY"}}],
         "mark": {"type": "bar", "size": 5, "stroke": "#111111", "strokeWidth": 0.8},
         "encoding": {
          "x": {"field": "t", "type": "quantitative", "scale": {"domain": [-0.291, 47.42], "nice": false, "zero": false, "padding": 0}, "axis": null},
          "y": {"field": "open", "type": "quantitative", "scale": {"domain": [142.8315, 144.8966], "nice": false, "zero": false, "padding": 0}, "axis": null},
          "y2": {"field": "close"},
          "fill": {"condition": {"test": "datum.close >= datum.open", "value": "#FFFFFF"}, "value": "#2B14F0"}}},
        {"data": {"name": "labels"}, "transform": [{"filter": "datum.pair == 'GBPJPY' && datum.kind == 'high'"}],
         "mark": {"type": "text", "align": "right", "baseline": "middle", "dx": 0, "dy": -3, "font": "Liberation Sans, Arial, sans-serif", "fontSize": 9, "color": "#F3842A", "clip": true},
         "encoding": {
          "x": {"field": "t", "type": "quantitative", "scale": {"domain": [-0.291, 47.42], "nice": false, "zero": false, "padding": 0}, "axis": null},
          "y": {"field": "value", "type": "quantitative", "scale": {"domain": [142.8315, 144.8966], "nice": false, "zero": false, "padding": 0}, "axis": null},
          "text": {"field": "text"}}},
        {"data": {"values": [{}]},
         "mark": {"type": "rect", "fill": "#3A6397"},
         "encoding": {
          "x": {"datum": 0.47, "type": "quantitative", "scale": {"domain": [-0.291, 47.42], "nice": false, "zero": false, "padding": 0}, "axis": null},
          "x2": {"datum": 15.92},
          "y": {"datum": 144.7898, "type": "quantitative", "scale": {"domain": [142.8315, 144.8966], "nice": false, "zero": false, "padding": 0}, "axis": null},
          "y2": {"datum": 144.5049}}},
        {"data": {"values": [{}]},
         "mark": {"type": "text", "text": "ポンド/円", "font": "Noto Sans CJK JP", "fontSize": 15, "fontWeight": "bold", "color": "#FFFFFF"},
         "encoding": {
          "x": {"datum": 8.2, "type": "quantitative", "scale": {"domain": [-0.291, 47.42], "nice": false, "zero": false, "padding": 0}, "axis": null},
          "y": {"datum": 144.647, "type": "quantitative", "scale": {"domain": [142.8315, 144.8966], "nice": false, "zero": false, "padding": 0}, "axis": null}}},
        {"data": {"name": "tails"}, "transform": [{"filter": {"field": "pair", "equal": "GBPJPY"}}],
         "mark": {"type": "line", "stroke": "#333333", "strokeWidth": 1},
         "encoding": {
          "x": {"field": "t", "type": "quantitative", "scale": {"domain": [-0.291, 47.42], "nice": false, "zero": false, "padding": 0}, "axis": null},
          "y": {"field": "value", "type": "quantitative", "scale": {"domain": [142.8315, 144.8966], "nice": false, "zero": false, "padding": 0}, "axis": null},
          "detail": {"field": "id"},
          "order": {"field": "seq"}}},
        {"data": {"name": "boxes"}, "transform": [{"filter": {"field": "pair", "equal": "GBPJPY"}}],
         "mark": {"type": "point", "shape": "square", "size": 841, "filled": true, "fill": "#FFFFFF", "stroke": "#333333", "strokeWidth": 1, "opacity": 1},
         "encoding": {
          "x": {"field": "t", "type": "quantitative", "scale": {"domain": [-0.291, 47.42], "nice": false, "zero": false, "padding": 0}, "axis": null},
          "y": {"field": "value", "type": "quantitative", "scale": {"domain": [142.8315, 144.8966], "nice": false, "zero": false, "padding": 0}, "axis": null}}},
        {"data": {"name": "boxes"}, "transform": [{"filter": {"field": "pair", "equal": "GBPJPY"}}],
         "mark": {"type": "text", "font": "Noto Sans CJK JP", "fontSize": 19, "color": "#222222"},
         "encoding": {
          "x": {"field": "t", "type": "quantitative", "scale": {"domain": [-0.291, 47.42], "nice": false, "zero": false, "padding": 0}, "axis": null},
          "y": {"field": "value", "type": "quantitative", "scale": {"domain": [142.8315, 144.8966], "nice": false, "zero": false, "padding": 0}, "axis": null},
          "text": {"field": "label"}}}
       ]
      },
      {
       "width": 48, "height": 203,
       "view": {"fill": "#F0F0F0", "stroke": "#3A67A0", "strokeWidth": 2},
       "data": {"name": "labels"},
       "transform": [{"filter": "datum.pair == 'GBPJPY' && datum.kind == 'now'"}],
       "encoding": {"y": {"field": "value", "type": "quantitative", "scale": {"domain": [142.8315, 144.8966], "nice": false, "zero": false, "padding": 0},
           "axis": {"orient": "left", "values": [143.0, 143.2, 143.4, 143.6, 143.8, 144.0, 144.2, 144.4, 144.6, 144.8], "format": ".3f", "grid": false, "ticks": false, "domain": true, "domainColor": "#8C8C8C", "domainWidth": 2, "labelAlign": "center", "labelPadding": -24, "labelFont": "Liberation Sans, Arial, sans-serif", "labelFontSize": 8.5, "labelColor": "#333333", "title": null}}},
       "layer": [
        {"mark": {"type": "tick", "orient": "horizontal", "size": 48, "thickness": 12, "color": "#F5A032", "opacity": 1}},
        {"mark": {"type": "text", "color": "#FFFFFF", "font": "Liberation Sans, Arial, sans-serif", "fontSize": 8.5},
         "encoding": {"text": {"field": "text"}}}
       ]
      }
     ],
     "columns": 4,
     "spacing": 0,
     "bounds": "flush"
    },
    {
     "width": 724, "height": 18,
     "view": {"stroke": "#2B64A8", "strokeWidth": 2.5, "strokeDash": [2, 1.5]},
     "data": {"values": [{"label": "期間：22日（水）午前7時10分～23日（木）午前6時55分　※チャートは30分足（日本時間表示）　出所：外為どっとコム"}]},
     "mark": {"type": "text", "font": "Noto Sans CJK JP", "fontSize": 12, "color": "#222222", "align": "left", "baseline": "middle", "dx": -351},
     "encoding": {"text": {"field": "label"}}
    }
   ],
   "spacing": 8
  }
 ]
}
